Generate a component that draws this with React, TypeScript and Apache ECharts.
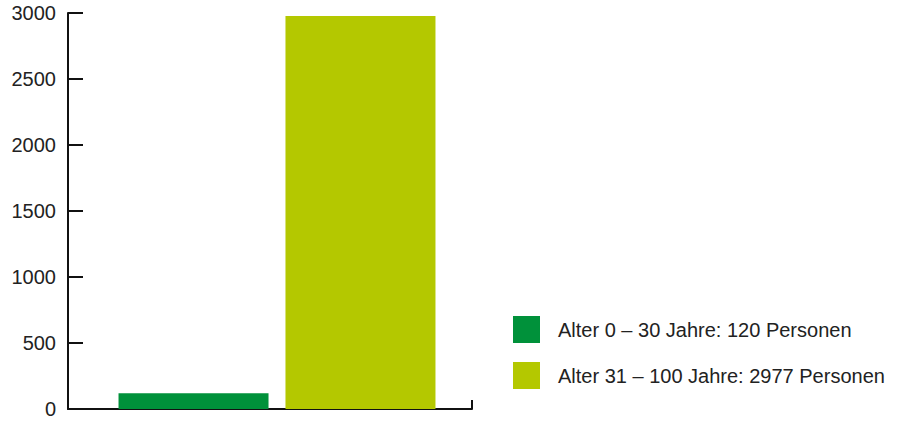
import React, { useEffect, useRef } from "react";
import * as echarts from "echarts";

const categories = [""];
const seriesNames = [
  "Alter 0 – 30 Jahre: 120 Personen",
  "Alter 31 – 100 Jahre: 2977 Personen",
];
const seriesValues = [120, 2977];
const seriesColors = ["#00913a", "#b4c800"];
const yTicks = { min: 0, max: 3000, interval: 500 };

export default function App() {
  const ref = useRef<HTMLDivElement>(null);
  useEffect(() => {
    if (!ref.current) return;
    const chart = echarts.init(ref.current, undefined, { renderer: "svg" });
    const yBase = {
      type: "value",
      min: yTicks.min,
      max: yTicks.max,
      interval: yTicks.interval,
      splitLine: { show: false },
    };
    chart.setOption({
      animation: false,
      textStyle: { fontFamily: "Liberation Sans" },
      grid: [
        { left: 68, top: 13, right: 431, bottom: 12, containLabel: false },
        { left: 75, top: 13, right: 424, bottom: 12, containLabel: false },
      ],
      legend: {
        orient: "vertical",
        left: 513,
        top: 316,
        padding: 0,
        itemWidth: 27,
        itemHeight: 27,
        itemGap: 19,
        icon: "rect",
        textStyle: { fontSize: 20, color: "#222", padding: [0, 0, 0, 13] },
        data: seriesNames,
      },
      xAxis: [
        {
          type: "category",
          gridIndex: 0,
          data: categories,
          axisLine: { lineStyle: { color: "#111", width: 2 } },
          axisTick: { show: true, inside: true, length: 9, lineStyle: { color: "#111", width: 2 } },
          axisLabel: { show: false },
        },
        {
          type: "category",
          gridIndex: 1,
          data: categories,
          show: false,
        },
      ],
      yAxis: [
        {
          ...yBase,
          gridIndex: 0,
          axisLine: { show: true, lineStyle: { color: "#111", width: 2 } },
          axisTick: { show: true, inside: true, length: 15, lineStyle: { color: "#111", width: 2 } },
          axisLabel: { fontSize: 20, color: "#222", margin: 12, formatter: (v: number) => String(v) },
        },
        { ...yBase, gridIndex: 1, show: false },
      ],
      series: seriesNames.map((name, i) => ({
        type: "bar",
        name,
        xAxisIndex: 1,
        yAxisIndex: 1,
        data: [seriesValues[i]],
        barWidth: 150,
        barGap: "11.3%",
        itemStyle: { color: seriesColors[i] },
      })),
    });
    return () => chart.dispose();
  }, []);
  return (
    <div
      ref={ref}
      style={{ position: "fixed", left: 0, top: 0, width: 903, height: 421, background: "#fff" }}
    />
  );
}
